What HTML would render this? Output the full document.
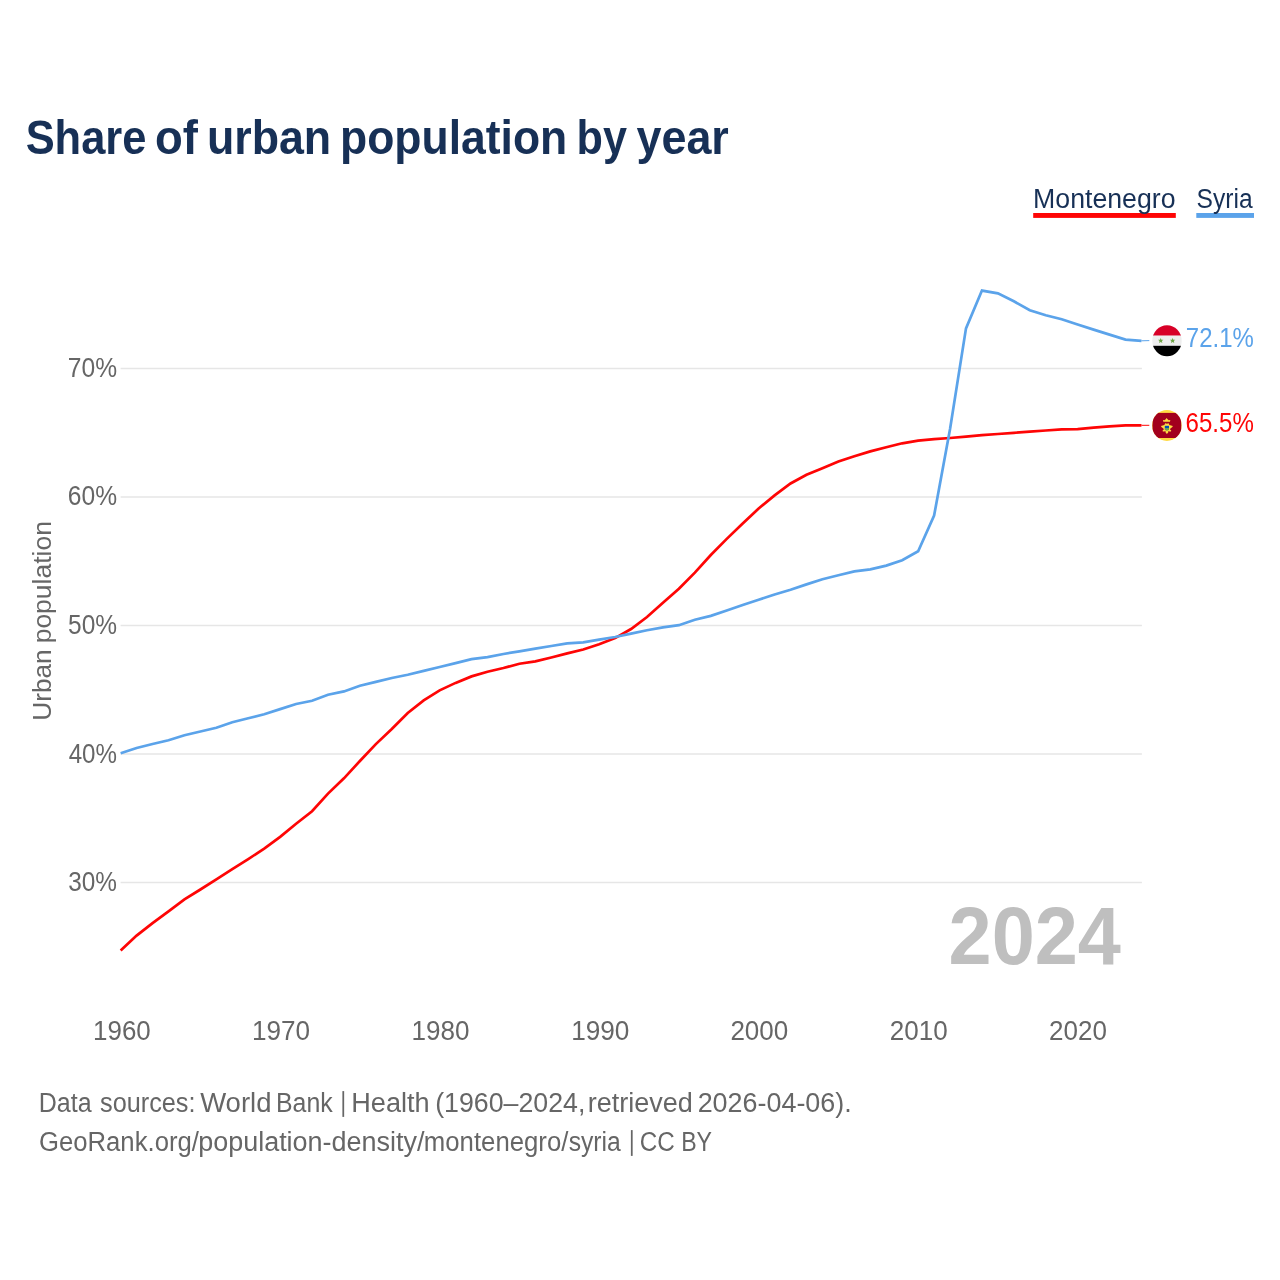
<!DOCTYPE html>
<html><head><meta charset="utf-8"><title>Share of urban population by year</title>
<style>html,body{margin:0;padding:0;background:#fff}svg{display:block;will-change:transform}text{font-family:"Liberation Sans",sans-serif}</style></head><body>
<svg width="1280" height="1280" viewBox="0 0 1280 1280">
<rect width="1280" height="1280" fill="#fff"/>
<rect x="1033.2" y="213" width="142.6" height="4.9" fill="#fe0505"/>
<rect x="1196.3" y="213" width="57.7" height="4.9" fill="#5ba3ea"/>
<line x1="120.6" x2="1141.9" y1="368.45" y2="368.45" stroke="#e6e6e6" stroke-width="1.4"/>
<line x1="120.6" x2="1141.9" y1="496.95" y2="496.95" stroke="#e6e6e6" stroke-width="1.4"/>
<line x1="120.6" x2="1141.9" y1="625.5" y2="625.5" stroke="#e6e6e6" stroke-width="1.4"/>
<line x1="120.6" x2="1141.9" y1="754.0" y2="754.0" stroke="#e6e6e6" stroke-width="1.4"/>
<line x1="120.6" x2="1141.9" y1="882.5" y2="882.5" stroke="#e6e6e6" stroke-width="1.4"/>
<text x="25.64" y="153.75" font-size="47.8" font-weight="bold" fill="#173056" textLength="120.81" lengthAdjust="spacingAndGlyphs">Share</text>
<text x="155.03" y="153.75" font-size="47.8" font-weight="bold" fill="#173056" textLength="42.94" lengthAdjust="spacingAndGlyphs">of</text>
<text x="206.89" y="153.75" font-size="47.8" font-weight="bold" fill="#173056" textLength="124.34" lengthAdjust="spacingAndGlyphs">urban</text>
<text x="339.98" y="153.75" font-size="47.8" font-weight="bold" fill="#173056" textLength="227.31" lengthAdjust="spacingAndGlyphs">population</text>
<text x="576.56" y="153.75" font-size="47.8" font-weight="bold" fill="#173056" textLength="50.39" lengthAdjust="spacingAndGlyphs">by</text>
<text x="636.43" y="153.75" font-size="47.8" font-weight="bold" fill="#173056" textLength="92.44" lengthAdjust="spacingAndGlyphs">year</text>
<text x="1033.08" y="207.80" font-size="27" fill="#173056" textLength="142.41" lengthAdjust="spacingAndGlyphs">Montenegro</text>
<text x="1196.56" y="207.80" font-size="27" fill="#173056" textLength="56.05" lengthAdjust="spacingAndGlyphs">Syria</text>
<text x="67.78" y="376.95" font-size="27" fill="#666" textLength="49.27" lengthAdjust="spacingAndGlyphs">70%</text>
<text x="67.78" y="505.45" font-size="27" fill="#666" textLength="49.27" lengthAdjust="spacingAndGlyphs">60%</text>
<text x="68.02" y="634.00" font-size="27" fill="#666" textLength="49.03" lengthAdjust="spacingAndGlyphs">50%</text>
<text x="68.70" y="762.50" font-size="27" fill="#666" textLength="48.33" lengthAdjust="spacingAndGlyphs">40%</text>
<text x="68.25" y="891.00" font-size="27" fill="#666" textLength="48.79" lengthAdjust="spacingAndGlyphs">30%</text>
<text x="93.08" y="1039.90" font-size="27" fill="#666" textLength="57.70" lengthAdjust="spacingAndGlyphs">1960</text>
<text x="252.07" y="1039.90" font-size="27" fill="#666" textLength="58.06" lengthAdjust="spacingAndGlyphs">1970</text>
<text x="411.47" y="1039.90" font-size="27" fill="#666" textLength="57.96" lengthAdjust="spacingAndGlyphs">1980</text>
<text x="571.16" y="1039.90" font-size="27" fill="#666" textLength="58.27" lengthAdjust="spacingAndGlyphs">1990</text>
<text x="730.40" y="1039.90" font-size="27" fill="#666" textLength="57.83" lengthAdjust="spacingAndGlyphs">2000</text>
<text x="889.69" y="1039.90" font-size="27" fill="#666" textLength="57.93" lengthAdjust="spacingAndGlyphs">2010</text>
<text x="1049.10" y="1039.90" font-size="27" fill="#666" textLength="57.83" lengthAdjust="spacingAndGlyphs">2020</text>
<text x="948.59" y="963.90" font-size="81.6" font-weight="bold" fill="#bfbfbf" textLength="172.21" lengthAdjust="spacingAndGlyphs">2024</text>
<text x="1185.87" y="346.70" font-size="27" fill="#5ba3ea" textLength="67.97" lengthAdjust="spacingAndGlyphs">72.1%</text>
<text x="1185.56" y="431.70" font-size="27" fill="#fe0505" textLength="68.28" lengthAdjust="spacingAndGlyphs">65.5%</text>
<text x="38.82" y="1111.80" font-size="27" fill="#666" textLength="52.82" lengthAdjust="spacingAndGlyphs">Data</text>
<text x="100.00" y="1111.80" font-size="27" fill="#666" textLength="95.48" lengthAdjust="spacingAndGlyphs">sources:</text>
<text x="200.15" y="1111.80" font-size="27" fill="#666" textLength="71.36" lengthAdjust="spacingAndGlyphs">World</text>
<text x="276.03" y="1111.80" font-size="27" fill="#666" textLength="56.71" lengthAdjust="spacingAndGlyphs">Bank</text>
<rect x="342.40" y="1091.10" width="1.75" height="25.8" fill="#666"/>
<text x="351.24" y="1111.80" font-size="27" fill="#666" textLength="78.36" lengthAdjust="spacingAndGlyphs">Health</text>
<text x="435.17" y="1111.80" font-size="27" fill="#666" textLength="150.20" lengthAdjust="spacingAndGlyphs">(1960–2024,</text>
<text x="587.65" y="1111.80" font-size="27" fill="#666" textLength="105.15" lengthAdjust="spacingAndGlyphs">retrieved</text>
<text x="697.65" y="1111.80" font-size="27" fill="#666" textLength="154.09" lengthAdjust="spacingAndGlyphs">2026-04-06).</text>
<text x="39.01" y="1150.80" font-size="27" fill="#666" textLength="159.88" lengthAdjust="spacingAndGlyphs">GeoRank.org/</text>
<text x="198.15" y="1150.80" font-size="27" fill="#666" textLength="226.40" lengthAdjust="spacingAndGlyphs">population-density/</text>
<text x="423.83" y="1150.80" font-size="27" fill="#666" textLength="144.57" lengthAdjust="spacingAndGlyphs">montenegro/</text>
<text x="568.71" y="1150.80" font-size="27" fill="#666" textLength="52.09" lengthAdjust="spacingAndGlyphs">syria</text>
<rect x="630.90" y="1130.10" width="1.75" height="25.8" fill="#666"/>
<text x="639.85" y="1150.80" font-size="27" fill="#666" textLength="35.05" lengthAdjust="spacingAndGlyphs">CC</text>
<text x="681.17" y="1150.80" font-size="27" fill="#666" textLength="30.89" lengthAdjust="spacingAndGlyphs">BY</text>
<text transform="translate(51,0) rotate(-90)" x="-720.78" y="0" font-size="26.5" fill="#666" textLength="71.44" lengthAdjust="spacingAndGlyphs">Urban</text>
<text transform="translate(51,0) rotate(-90)" x="-643.35" y="0" font-size="26.5" fill="#666" textLength="122.25" lengthAdjust="spacingAndGlyphs">population</text>
<path d="M120.65,950.50 L136.60,935.60 L152.55,923.10 L168.50,911.40 L184.45,899.40 L200.40,889.50 L216.35,879.40 L232.30,869.20 L248.25,859.10 L264.20,848.60 L280.15,836.90 L296.10,823.70 L312.05,811.20 L328.00,793.60 L343.95,778.30 L359.90,761.00 L375.85,744.10 L391.80,729.00 L407.75,713.00 L423.70,700.40 L439.65,690.40 L455.60,682.90 L471.55,676.40 L487.50,671.70 L503.45,668.00 L519.40,663.70 L535.35,661.40 L551.30,657.50 L567.25,653.40 L583.20,649.50 L599.15,644.25 L615.10,638.10 L631.05,629.00 L647.00,617.00 L662.95,602.85 L678.90,588.80 L694.85,572.60 L710.80,555.00 L726.75,538.90 L742.70,523.50 L758.65,508.50 L774.60,495.40 L790.55,483.50 L806.50,474.80 L822.45,468.20 L838.40,461.50 L854.35,456.30 L870.30,451.40 L886.25,447.20 L902.20,443.30 L918.15,440.60 L934.10,439.10 L950.05,438.00 L966.00,436.70 L981.95,435.20 L997.90,434.00 L1013.85,432.80 L1029.80,431.70 L1045.75,430.50 L1061.70,429.30 L1077.65,429.20 L1093.60,427.60 L1109.55,426.40 L1125.50,425.30 L1141.45,425.30" fill="none" stroke="#fe0505" stroke-width="2.7" stroke-linejoin="miter" stroke-linecap="butt"/>
<path d="M120.65,753.30 L136.60,748.00 L152.55,744.00 L168.50,740.20 L184.45,735.20 L200.40,731.50 L216.35,727.70 L232.30,722.20 L248.25,718.30 L264.20,714.20 L280.15,709.10 L296.10,704.00 L312.05,700.80 L328.00,694.80 L343.95,691.40 L359.90,685.80 L375.85,681.90 L391.80,678.00 L407.75,674.70 L423.70,670.90 L439.65,667.00 L455.60,663.10 L471.55,659.20 L487.50,657.10 L503.45,654.00 L519.40,651.30 L535.35,648.70 L551.30,646.00 L567.25,643.40 L583.20,642.30 L599.15,639.70 L615.10,637.00 L631.05,633.60 L647.00,630.30 L662.95,627.30 L678.90,625.20 L694.85,619.80 L710.80,615.90 L726.75,610.50 L742.70,605.00 L758.65,599.80 L774.60,594.50 L790.55,589.70 L806.50,584.40 L822.45,579.20 L838.40,575.30 L854.35,571.40 L870.30,569.30 L886.25,565.60 L902.20,560.20 L918.15,551.25 L934.10,515.60 L950.05,429.00 L966.00,328.40 L981.95,290.60 L997.90,293.40 L1013.85,301.25 L1029.80,310.20 L1045.75,315.30 L1061.70,319.30 L1077.65,324.50 L1093.60,329.60 L1109.55,334.60 L1125.50,339.60 L1141.45,340.90" fill="none" stroke="#5ba3ea" stroke-width="2.7" stroke-linejoin="miter" stroke-linecap="butt"/>
<line x1="1141.4" x2="1149.3" y1="340.8" y2="340.6" stroke="#5ba3ea" stroke-width="1"/>
<line x1="1141.4" x2="1149.3" y1="425.3" y2="425.3" stroke="#fe0505" stroke-width="1"/>
<defs><clipPath id="cs"><ellipse cx="1167" cy="340.75" rx="14.7" ry="15.55"/></clipPath><clipPath id="cm"><ellipse cx="1166.9" cy="425.45" rx="14.8" ry="15.45"/></clipPath></defs>
<g clip-path="url(#cs)"><rect x="1150" y="324" width="34" height="11.7" fill="#d80027"/><rect x="1150" y="335.7" width="34" height="10.1" fill="#eeeeee"/><rect x="1150" y="345.8" width="34" height="12" fill="#000"/></g>
<polygon points="1160.70,337.90 1161.44,339.68 1163.36,339.83 1161.90,341.09 1162.35,342.97 1160.70,341.96 1159.05,342.97 1159.50,341.09 1158.04,339.83 1159.96,339.68" fill="#6da544"/>
<polygon points="1172.60,337.90 1173.34,339.68 1175.26,339.83 1173.80,341.09 1174.25,342.97 1172.60,341.96 1170.95,342.97 1171.40,341.09 1169.94,339.83 1171.86,339.68" fill="#6da544"/>
<g clip-path="url(#cm)"><rect x="1150" y="408" width="34" height="36" fill="#ffda44"/><rect x="1152.4" y="412.9" width="29.0" height="25.1" fill="#a2001d"/></g>
<g fill="#ffda44"><path d="M1163.3,421.8 L1163,419.9 L1164.6,420.2 L1165.7,419.3 L1166.65,418.1 L1167.6,419.3 L1168.7,420.2 L1170.3,419.9 L1170,421.8 Z"/><path d="M1165.2,423.2 L1166.9,423.8 L1168.6,423.2 L1169.4,425 L1172.8,426 L1172.4,427 L1170.4,428.6 L1170,429.6 L1171.2,430.4 L1171,431.6 L1169.4,431.6 L1168.4,431 L1168.2,432.6 L1166.9,434 L1165.6,432.6 L1165.4,431 L1164.4,431.6 L1162.8,431.6 L1162.6,430.4 L1163.8,429.6 L1163.4,428.6 L1161.4,427 L1161,426 L1164.4,425 Z"/></g>
<path d="M1164.8,425.8 h4.2 v2.8 h-4.2 z" fill="#0052b4"/>
<path d="M1164.8,428.5 h4.2 v0.7 q-0.3,1.3 -2.1,1.6 q-1.8,-0.3 -2.1,-1.6 z" fill="#6da544"/>
</svg></body></html>
